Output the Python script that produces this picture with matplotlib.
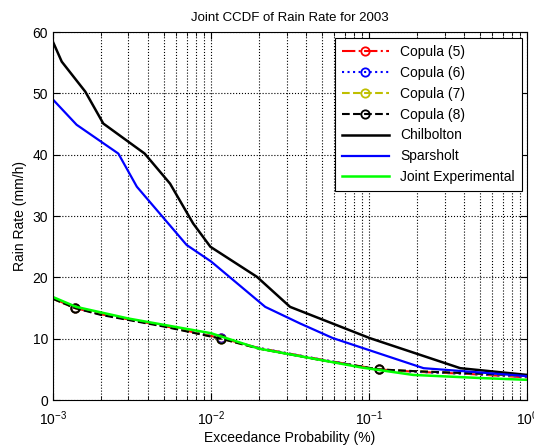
import numpy as np
import matplotlib
matplotlib.use("Agg")
import matplotlib.pyplot as plt
from matplotlib.ticker import LogLocator, NullFormatter

plt.rcParams['font.family'] = ['Liberation Sans', 'DejaVu Sans']
plt.rcParams['mathtext.fontset'] = 'custom'
plt.rcParams['mathtext.rm'] = 'Liberation Sans'

# Measured curves (exceedance probability in %, rain rate in mm/h)
chil_p = [1e-3, 1.135e-3, 1.6e-3, 2.08e-3, 3.8e-3, 5.5e-3, 7.7e-3, 9.9e-3,
          0.0195, 0.0316, 0.101, 0.377, 1.0]
chil_r = [58.4, 55.2, 50.3, 45.1, 40.2, 35.3, 28.8, 25.0,
          20.1, 15.2, 10.1, 5.2, 4.1]

spar_p = [1e-3, 1.41e-3, 2.59e-3, 3.39e-3, 7.0e-3, 0.01, 0.022, 0.0365,
          0.059, 0.221, 0.4, 1.0]
spar_r = [49.0, 44.9, 40.2, 34.8, 25.3, 22.6, 15.2, 12.5,
          10.1, 5.2, 4.7, 3.9]

joint_p = [1e-3, 1.4e-3, 3e-3, 0.01, 0.02, 0.09, 0.19, 0.5, 1.0]
joint_r = [16.8, 15.2, 13.3, 10.9, 8.4, 5.3, 4.1, 3.6, 3.3]

# Copula estimates
cop_p = [1e-3, 1.38e-3, 2e-3, 5e-3, 0.0116, 0.02, 0.05, 0.115, 0.2, 0.4, 1.0]
cop5 = [16.6, 15.0, 14.0, 12.1, 10.1, 8.5, 6.6, 5.0, 4.6, 4.3, 3.7]
cop6 = [16.6, 15.0, 14.0, 12.1, 10.1, 8.5, 6.6, 5.0, 4.6, 4.3, 3.8]
cop7 = [16.5, 15.0, 14.0, 12.1, 10.0, 8.4, 6.5, 5.0, 4.7, 4.4, 3.9]
cop8 = [16.5, 15.0, 13.9, 12.0, 10.0, 8.4, 6.5, 5.0, 4.7, 4.4, 4.0]
marks = [1, 4, 7]

fig = plt.figure(figsize=(5.34, 4.47), dpi=100)
ax = fig.add_axes([0.0993, 0.105, 0.888, 0.823])

ax.plot(cop_p, cop5, '-.', color='red', marker='o', mfc='none', ms=6, mew=1.3,
        lw=1.5, markevery=marks, label='Copula (5)')
ax.plot(cop_p, cop6, ':', color='blue', marker='o', mfc='none', ms=6, mew=1.3,
        lw=1.5, markevery=marks, label='Copula (6)')
ax.plot(cop_p, cop7, '--', color=(0.75, 0.75, 0), marker='o', mfc='none', ms=6,
        mew=1.3, lw=1.5, markevery=marks, label='Copula (7)')
ax.plot(cop_p, cop8, '--', color='black', marker='o', mfc='none', ms=6, mew=1.3,
        lw=1.5, markevery=marks, label='Copula (8)')
ax.plot(chil_p, chil_r, '-', color='black', lw=1.8, label='Chilbolton')
ax.plot(spar_p, spar_r, '-', color='blue', lw=1.6, label='Sparsholt')
ax.plot(joint_p, joint_r, '-', color=(0, 1, 0), lw=1.8, label='Joint Experimental')

ax.set_xscale('log')
ax.set_xlim(1e-3, 1)
ax.set_ylim(0, 60)
ax.set_yticks(np.arange(0, 61, 10))
ax.xaxis.set_minor_locator(LogLocator(base=10, subs=np.arange(2, 10)))
ax.xaxis.set_minor_formatter(NullFormatter())

ax.grid(True, which='major', linestyle=':', color='black', lw=0.8)
ax.grid(True, which='minor', axis='x', linestyle=':', color='black', lw=0.8)
ax.tick_params(which='both', direction='in', top=True, right=True, labelsize=10)
ax.tick_params(which='major', length=5)
ax.tick_params(which='minor', length=3)
ax.tick_params(axis='x', which='major', pad=7)
for s in ax.spines.values():
    s.set_linewidth(0.8)

ax.set_title('Joint CCDF of Rain Rate for 2003', fontsize=9.5, pad=8)
ax.set_xlabel('Exceedance Probability (%)', fontsize=10, labelpad=2)
ax.set_ylabel('Rain Rate (mm/h)', fontsize=10)

leg = ax.legend(loc='upper right', fontsize=10, handlelength=3.4,
                fancybox=False, framealpha=1, edgecolor='black',
                borderaxespad=0.4, labelspacing=0.5, borderpad=0.5)
leg.get_frame().set_linewidth(0.8)

fig.savefig('out.png', dpi=100)
